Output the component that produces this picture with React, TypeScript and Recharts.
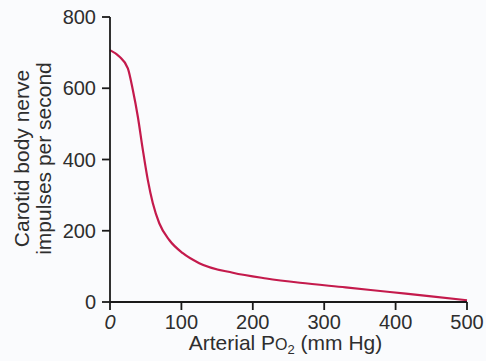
import { Label, Line, LineChart, XAxis, YAxis } from 'recharts';

// arterial PO2 (mm Hg) and carotid body firing rate (impulses/s)
const po2 = [0, 13, 25, 32, 39, 46, 53, 60, 69, 83, 102, 125, 172, 219, 266, 330, 392, 450, 500];
const impulses = [707, 689, 656, 595, 520, 427, 342, 277, 221, 174, 137, 109, 82, 66, 54, 41, 28, 16, 5];
const xTicks = [0, 100, 200, 300, 400, 500];
const yTicks = [0, 200, 400, 600, 800];

const data = po2.map((p, i) => ({ po2: p, rate: impulses[i] }));

const FONT = '"Liberation Sans", Arial, sans-serif';
const TEXT = '#2e2e2e';

function YTitle({ viewBox }: any) {
  const cx = viewBox.x;
  const cy = viewBox.y + viewBox.height / 2 - 1;
  return (
    <g fill={TEXT} fontFamily={FONT} fontSize={21} textAnchor="middle">
      <text transform={`translate(${cx + 29}, ${cy}) rotate(-90)`}>Carotid body nerve</text>
      <text transform={`translate(${cx + 51}, ${cy}) rotate(-90)`}>impulses per second</text>
    </g>
  );
}

function XTitle({ viewBox }: any) {
  const cx = viewBox.x + viewBox.width / 2 - 3;
  return (
    <text x={cx} y={350} fill={TEXT} fontFamily={FONT} fontSize={21} textAnchor="middle">
      Arterial P<tspan fontSize={16}>O</tspan>
      <tspan fontSize={13} dy={4}>2</tspan>
      <tspan dy={-4}> (mm Hg)</tspan>
    </text>
  );
}

// the zero on the x axis is set in italics in the original figure
function XTick({ x, y, payload }: any) {
  return (
    <text
      x={x}
      y={y}
      dy="0.71em"
      textAnchor="middle"
      fill={TEXT}
      fontFamily={FONT}
      fontSize={20}
      fontStyle={payload.value === 0 ? 'italic' : 'normal'}
    >
      {payload.value}
    </text>
  );
}

export default function App() {
  return (
    <div style={{ position: 'absolute', left: 0, top: 0, width: 486, height: 361, background: '#fafbfd' }}>
      <LineChart width={486} height={361} data={data} margin={{ top: 17, right: 19, left: 0, bottom: 0 }}>
        <XAxis
          type="number"
          dataKey="po2"
          domain={[0, 500]}
          ticks={xTicks}
          height={59}
          stroke="#1a1a1a"
          strokeWidth={1.8}
          tickSize={8}
          tickMargin={5}
          tick={<XTick />}
        >
          <Label content={<XTitle />} />
        </XAxis>
        <YAxis
          type="number"
          domain={[0, 800]}
          ticks={yTicks}
          width={110}
          stroke="#1a1a1a"
          strokeWidth={1.8}
          tickSize={8}
          tickMargin={6}
          tick={{ fill: TEXT, fontSize: 20, fontFamily: FONT }}
        >
          <Label content={<YTitle />} />
        </YAxis>
        <Line
          type="monotone"
          dataKey="rate"
          stroke="#c41a4c"
          strokeWidth={2.2}
          dot={false}
          isAnimationActive={false}
        />
      </LineChart>
    </div>
  );
}
